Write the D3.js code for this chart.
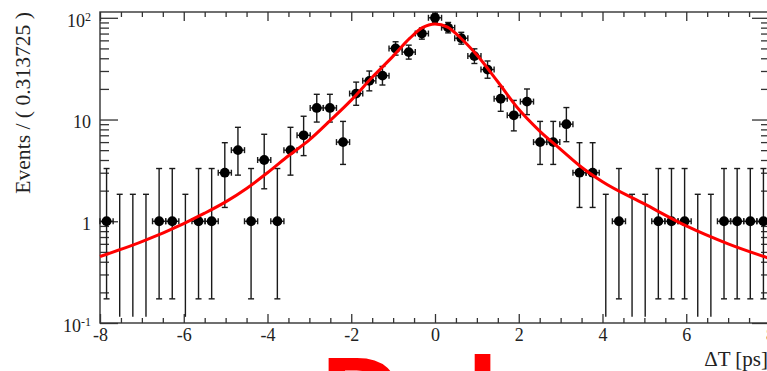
<!DOCTYPE html>
<html>
<head>
<meta charset="utf-8">
<script src="https://cdn.jsdelivr.net/npm/d3@7"></script>
<style>
  body { margin: 0; background: #fff; }
  svg { display: block; }
  .ax text { font-family: "Liberation Serif", "DejaVu Serif", serif; font-size: 18px; fill: #222; }
  .ax line { stroke: #333; stroke-width: 1.3; }
</style>
</head>
<body>
<svg id="chart" width="767" height="371"></svg>
<script>
// events per bin, 51 bins of width 0.313725 from -8 to 8
const counts = [1, 0, 0, 0, 1, 1, 0, 1, 1, 3, 5, 1, 4, 1, 5, 7, 13, 13, 6, 18, 24, 27, 50, 46, 70, 100,
                80, 63, 42, 31, 16, 11, 15, 6, 6, 9, 3, 3, 0, 1, 0, 0, 1, 1, 1, 0, 0, 1, 1, 1, 1];
const binStart = -8;
const binWidth = 0.313725;

// fitted curve
const fitX = [-8, -7, -6, -5.5, -5, -4.5, -4, -3.5, -3, -2.5, -2, -1.5, -1, -0.6, -0.3, 0,
              0.3, 0.6, 1, 1.5, 2, 2.5, 3, 3.5, 4, 5, 6, 7, 8];
const fitY = [0.45, 0.63, 0.95, 1.2, 1.55, 2.1, 3.0, 4.4, 6.3, 9.8, 15.5, 26, 42, 63, 80, 87,
              81, 64, 43, 23.5, 12.6, 7.7, 5.1, 3.4, 2.45, 1.48, 0.9, 0.6, 0.43];

const xMajor = [-8, -6, -4, -2, 0, 2, 4, 6, 8];
const yMajor = [0.1, 1, 10, 100];
const yLabels = [["10", "-1"], ["1", ""], ["10", ""], ["10", "2"]];

const padL = 100, padR = 770, padT = 12, padB = 323;
const LOW_CLIP = 0.115;

const svg = d3.select("#chart");

const x = d3.scaleLinear().domain([-8, 8]).range([padL, padR]);
const y = d3.scaleLog().domain([0.1, 114]).range([padB, padT]);

// Poisson (Garwood) 68% interval, as RooFit draws it
function poisCdf(n, m) {
  let term = Math.exp(-m), s = term;
  for (let k = 1; k <= n; k++) { term *= m / k; s += term; }
  return s;
}
function solveMean(n, target) {
  let lo = 0, hi = 300;
  for (let it = 0; it < 80; it++) {
    const mid = (lo + hi) / 2;
    if (poisCdf(n, mid) > target) lo = mid; else hi = mid;
  }
  return (lo + hi) / 2;
}
const upperLimit = n => solveMean(n, 0.158655);
const lowerLimit = n => n > 0 ? solveMean(n - 1, 0.841345) : 0;

const pts = counts.map((n, i) => ({
  c: binStart + (i + 0.5) * binWidth,
  n: n,
  lo: lowerLimit(n),
  hi: upperLimit(n)
}));

// big red text at the bottom, mostly below the page
svg.append("text")
  .attr("x", 321).attr("y", 436)
  .attr("font-family", "Liberation Sans, Arial, sans-serif")
  .attr("font-weight", "bold")
  .attr("font-size", 114)
  .attr("fill", "#ff0000")
  .text("Del");

// axes (ticks drawn inside the frame, ROOT style)
const xMinor = d3.range(-8, 8.01, 0.5).filter(v => !xMajor.includes(v));
const yMinor = [];
[0.1, 1, 10].forEach(d => d3.range(2, 10).forEach(k => yMinor.push(d * k)));

const ticksOnly = g => { g.select(".domain").remove(); g.selectAll(".tick text").remove(); };
const noDomain = g => g.select(".domain").remove();

svg.append("g").attr("class", "ax").attr("transform", `translate(0,${padB})`)
  .call(d3.axisBottom(x).tickValues(xMinor).tickSize(-5))
  .call(ticksOnly);
svg.append("g").attr("class", "ax").attr("transform", `translate(0,${padB})`)
  .call(d3.axisBottom(x).tickValues(xMajor).tickSize(-9).tickPadding(5).tickFormat(d => d < 0 ? "-" + Math.abs(d) : String(d)))
  .call(noDomain);

svg.append("g").attr("class", "ax").attr("transform", `translate(0,${padT})`)
  .call(d3.axisTop(x).tickValues(xMinor).tickSize(-5))
  .call(ticksOnly);
svg.append("g").attr("class", "ax").attr("transform", `translate(0,${padT})`)
  .call(d3.axisTop(x).tickValues(xMajor).tickSize(-9))
  .call(ticksOnly);

svg.append("g").attr("class", "ax").attr("transform", `translate(${padL},0)`)
  .call(d3.axisLeft(y).tickValues(yMinor).tickSize(-9))
  .call(ticksOnly);
const yAx = svg.append("g").attr("class", "ax").attr("transform", `translate(${padL},0)`)
  .call(d3.axisLeft(y).tickValues(yMajor).tickSize(-18).tickPadding(9).tickFormat(""))
  .call(noDomain);
yAx.selectAll(".tick text")
  .attr("dy", "0.47em")
  .each(function (d, i) {
    const t = d3.select(this);
    t.append("tspan").text(yLabels[i][0]);
    if (yLabels[i][1]) {
      t.append("tspan").attr("dy", "-0.5em").attr("font-size", "12px").text(yLabels[i][1]);
    }
  });

svg.append("g").attr("class", "ax").attr("transform", `translate(${padR},0)`)
  .call(d3.axisRight(y).tickValues(yMinor).tickSize(-9))
  .call(ticksOnly);
svg.append("g").attr("class", "ax").attr("transform", `translate(${padR},0)`)
  .call(d3.axisRight(y).tickValues(yMajor).tickSize(-18))
  .call(ticksOnly);

// frame
svg.append("rect")
  .attr("x", padL).attr("y", padT)
  .attr("width", padR - padL).attr("height", padB - padT)
  .attr("fill", "none").attr("stroke", "#333").attr("stroke-width", 1.4);

// axis titles
svg.append("text")
  .attr("transform", "rotate(-90)")
  .attr("x", -padT).attr("y", 30)
  .attr("text-anchor", "end")
  .attr("font-family", "Liberation Serif, serif")
  .attr("font-size", 21.6)
  .attr("fill", "#222")
  .text("Events / ( 0.313725 )");

svg.append("text")
  .attr("x", 768).attr("y", 366)
  .attr("text-anchor", "end")
  .attr("font-family", "Liberation Serif, serif")
  .attr("font-size", 21)
  .attr("fill", "#222")
  .text("\u0394T [ps]");

// error bars and markers
const ink = "#1a1a1a";
const eg = svg.append("g").attr("stroke", ink).attr("stroke-width", 1.4);

pts.forEach(p => {
  const cx = x(p.c);
  const yTop = y(p.hi);
  const yBot = y(Math.max(p.lo, LOW_CLIP));
  eg.append("line").attr("x1", cx).attr("x2", cx).attr("y1", yTop).attr("y2", yBot);
  eg.append("line").attr("x1", cx - 3).attr("x2", cx + 3).attr("y1", yTop).attr("y2", yTop);
  if (p.n > 0) {
    eg.append("line").attr("x1", cx - 3).attr("x2", cx + 3).attr("y1", yBot).attr("y2", yBot);
    const x0 = x(p.c - binWidth / 2), x1 = x(p.c + binWidth / 2), yy = y(p.n);
    eg.append("line").attr("x1", x0).attr("x2", x1).attr("y1", yy).attr("y2", yy);
    eg.append("line").attr("x1", x0).attr("x2", x0).attr("y1", yy - 3).attr("y2", yy + 3);
    eg.append("line").attr("x1", x1).attr("x2", x1).attr("y1", yy - 3).attr("y2", yy + 3);
  }
});

svg.append("g").selectAll("circle")
  .data(pts.filter(p => p.n > 0))
  .enter().append("circle")
  .attr("cx", d => x(d.c))
  .attr("cy", d => y(d.n))
  .attr("r", 4.9)
  .attr("fill", "#000");

// fit curve
const fitLine = d3.line()
  .x((d, i) => x(fitX[i]))
  .y(d => y(d))
  .curve(d3.curveMonotoneX);

svg.append("path")
  .datum(fitY)
  .attr("fill", "none")
  .attr("stroke", "#f00")
  .attr("stroke-width", 3)
  .attr("d", fitLine);
</script>
</body>
</html>
